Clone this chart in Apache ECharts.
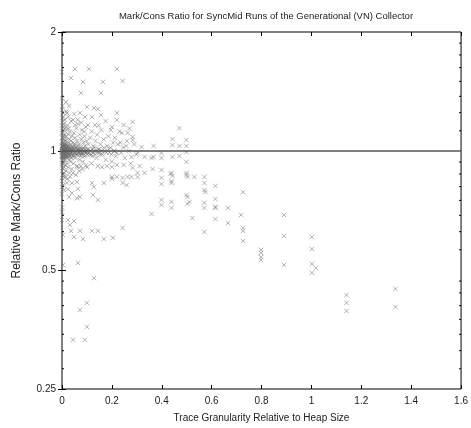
<!DOCTYPE html>
<html>
<head>
<meta charset="utf-8">
<script src="https://cdn.jsdelivr.net/npm/echarts@6/dist/echarts.min.js"></script>
<style>html,body{margin:0;padding:0;background:#fff;}#c{width:471px;height:428px;}</style>
</head>
<body>
<div id="c"></div>
<script>
const titleText = 'Mark/Cons Ratio for SyncMid Runs of the Generational (VN) Collector';
const xAxisName = 'Trace Granularity Relative to Heap Size';
const yAxisName = 'Relative Mark/Cons Ratio';
const xTicks = [0, 0.2, 0.4, 0.6, 0.8, 1, 1.2, 1.4, 1.6];
const yTicks = [0.25, 0.5, 1, 2];
const referenceRatio = 1;
const yMinorTicks = [0.28125, 0.3125, 0.34375, 0.375, 0.40625, 0.4375, 0.46875,
  0.5625, 0.625, 0.6875, 0.75, 0.8125, 0.875, 0.9375,
  1.125, 1.25, 1.375, 1.5, 1.625, 1.75, 1.875];

// runs close to zero granularity (dense cluster)
const clusterRuns = [
[0.001,1.00],[0.001,0.98],[0.001,1.03],[0.002,0.96],[0.002,1.06],[0.002,1.01],[0.002,0.99],[0.003,1.12],[0.003,0.93],[0.003,1.02],
[0.003,0.97],[0.004,1.08],[0.004,1.00],[0.004,0.90],[0.004,1.15],[0.005,1.04],[0.005,0.95],[0.005,0.99],[0.005,1.19],[0.006,1.01],
[0.006,0.87],[0.006,1.09],[0.006,0.97],[0.007,1.03],[0.007,0.94],[0.007,1.00],[0.007,1.13],[0.008,0.98],[0.008,1.05],[0.008,0.91],
[0.008,1.02],[0.009,1.07],[0.009,0.96],[0.009,1.00],[0.009,0.88],[0.010,1.01],[0.010,0.97],[0.010,1.10],[0.010,1.04],[0.0,1.00],
[0.0,0.97],[0.0,1.05],[0.0,0.93],[0.0,1.11],[0.0,1.21],[0.0,0.89],[0.0,0.84],[0.0,1.16],[0.001,0.95],[0.001,1.08],
[0.003,0.99],[0.004,1.03],[0.005,1.01],[0.006,0.99],[0.002,0.92],[0.003,1.25],[0.004,0.82],[0.001,1.36],[0.002,1.30],[0.0,0.78],
[0.001,0.72],[0.0,0.70],[0.006,1.22],[0.008,1.17],[0.007,0.86],
[0.011,0.99],[0.011,1.02],[0.012,0.95],[0.012,1.06],[0.013,1.00],[0.013,0.92],[0.014,1.03],[0.014,0.98],[0.015,1.09],[0.015,1.01],
[0.016,0.97],[0.016,0.89],[0.017,1.04],[0.017,1.00],[0.018,1.13],[0.018,0.96],[0.019,1.02],[0.019,0.99],[0.020,0.93],[0.020,1.07],
[0.021,1.00],[0.022,1.03],[0.022,0.97],[0.023,1.16],[0.024,0.99],[0.024,1.05],[0.025,0.91],[0.026,1.01],[0.026,1.10],[0.027,0.98],
[0.028,1.03],[0.028,0.95],[0.029,1.00],[0.030,1.07],[0.030,0.88],[0.031,1.02],[0.032,0.97],[0.032,1.12],[0.033,1.00],[0.034,1.04],
[0.035,0.94],[0.035,0.99],[0.036,1.19],[0.036,1.01],[0.037,1.06],[0.038,0.96],[0.038,1.00],[0.039,0.90],[0.040,1.03],[0.040,1.09],
[0.012,1.20],[0.015,0.86],[0.018,1.26],[0.021,0.85],[0.025,1.22],[0.027,1.14],[0.014,1.15],[0.019,0.83],[0.033,0.86],[0.029,1.30],
[0.016,1.33],[0.024,0.80],
[0.042,1.00],[0.043,0.97],[0.045,1.05],[0.046,1.01],[0.047,0.93],[0.048,1.11],[0.050,0.99],[0.051,1.03],[0.053,1.08],[0.054,0.96],
[0.055,1.00],[0.057,1.14],[0.058,1.02],[0.060,0.98],[0.061,1.06],[0.062,0.91],[0.064,1.01],[0.065,1.17],[0.067,0.99],[0.068,1.04],
[0.070,0.95],[0.071,1.10],[0.073,1.00],[0.074,1.02],[0.076,0.97],[0.078,1.07],[0.079,1.13],[0.081,0.99],[0.083,1.01],[0.084,0.94],
[0.086,1.05],[0.088,1.00],[0.090,1.09],[0.091,0.97],[0.093,1.03],[0.095,1.15],[0.097,0.99],[0.099,1.06],[0.044,0.88],[0.049,1.24],
[0.056,0.87],[0.063,1.20],[0.069,0.89],[0.077,1.18],[0.082,0.90],[0.089,1.12],[0.096,0.92],[0.052,1.04],[0.066,1.03],[0.075,0.99],
[0.085,1.02],[0.094,1.00],
[0.102,1.01],[0.106,1.04],[0.110,0.98],[0.113,1.08],[0.116,1.00],[0.119,1.12],[0.122,0.97],[0.126,1.03],[0.130,1.00],[0.134,1.06],
[0.138,0.96],[0.141,1.10],[0.146,1.01],[0.150,0.99],[0.154,1.04],[0.158,1.13],[0.162,0.98],[0.167,1.07],[0.172,1.00],[0.176,0.95],
[0.181,1.03],[0.186,1.09],[0.190,0.99],[0.195,1.02],[0.200,0.94],[0.205,1.05],[0.211,1.00],[0.216,0.97],[0.224,1.04],[0.230,1.12],
[0.237,0.99],[0.245,1.02],[0.252,0.96],[0.260,1.06],[0.268,1.00],[0.276,0.93],[0.290,1.04],[0.298,0.98],[0.118,0.93],[0.147,1.16],
[0.175,1.19],[0.196,1.13],[0.212,1.08],[0.235,1.05],[0.258,1.03],[0.270,1.14]
];

// runs right on the reference ratio (darkest band)
const bandRuns = [
[0.000,0.99],[0.000,1.02],[0.001,1.01],[0.001,0.97],[0.002,1.00],[0.002,1.03],[0.003,0.98],[0.003,1.01],[0.004,0.99],[0.004,1.02],
[0.005,0.97],[0.005,1.00],[0.006,1.03],[0.006,0.98],[0.007,1.01],[0.007,0.99],[0.008,1.00],[0.008,0.97],[0.009,1.02],[0.009,0.99],
[0.010,1.00],[0.011,0.98],[0.011,1.04],[0.012,1.01],[0.013,0.98],[0.013,1.03],[0.014,1.00],[0.015,0.97],[0.016,1.02],[0.017,0.98],
[0.018,1.01],[0.019,0.97],[0.020,1.00],[0.021,1.03],[0.022,0.99],[0.023,1.01],[0.024,0.97],[0.025,1.02],[0.026,0.99],[0.027,1.01],
[0.028,0.98],[0.030,1.00],[0.031,0.97],[0.032,1.01],[0.034,0.99],[0.035,1.02],[0.037,0.98],[0.038,1.01],[0.040,0.99],[0.041,1.01],
[0.043,1.02],[0.045,0.98],[0.046,1.00],[0.048,0.97],[0.050,1.01],[0.052,0.99],[0.054,1.02],[0.056,0.98],[0.058,1.00],[0.060,1.01],
[0.062,0.98],[0.064,1.00],[0.066,0.99],[0.068,1.01],[0.071,0.98],[0.073,1.01],[0.076,1.00],[0.078,0.98],[0.080,1.01],[0.083,0.99],
[0.086,1.00],[0.089,0.98],[0.092,1.01],[0.095,0.99],[0.098,1.00],[0.101,0.98],[0.105,1.01],[0.109,0.99],[0.113,1.00],[0.117,0.98],
[0.121,1.01],[0.125,0.99],[0.129,1.02],[0.133,0.98],[0.137,1.00],[0.142,0.99],[0.149,1.01],[0.155,0.98],[0.161,1.00],[0.168,1.02],
[0.178,0.99],[0.188,1.01],[0.198,0.98],[0.208,1.00],[0.22,0.99]
];

// scattered runs
const sparseRuns = [
[0,1.584],[0.052,1.612],[0.108,1.612],[0.22,1.612],[0.036,1.53],[0.084,1.495],[0.164,1.495],[0.243,1.503],[0.076,1.402],[0.156,1.402],
[0,1.27],[0.02,1.248],[0.1,1.292],[0.128,1.285],[0.144,1.277],[0.072,1.248],[0.092,1.219],[0.12,1.219],[0.156,1.233],[0.22,1.248],
[0.22,1.198],[0.283,1.184],[0.247,1.163],[0.044,1.198],[0.052,1.163],[0.104,1.163],[0.132,1.163],[0.471,1.143],[0.2,1.15],[0.24,1.111],
[0.263,1.111],[0.283,1.085],[0.283,1.066],[0.443,1.072],[0.443,1.035],[0.471,1.03],[0.499,1.066],[0.499,1.03],[0.367,1.03],[0.319,1.024],
[0.367,0.966],[0.399,0.988],[0.399,0.96],[0.443,0.966],[0.471,0.971],[0.499,0.994],[0.499,0.938],[0.331,0.966],[0.359,0.96],[0.303,0.988],
[0.279,0.966],
[0.06,0.916],[0.076,0.916],[0.1,0.911],[0.144,0.916],[0.16,0.911],[0.18,0.916],[0.2,0.911],[0.22,0.922],[0.247,0.922],[0.283,0.906],[0.311,0.916],
[0.399,0.895],[0.435,0.875],[0.443,0.865],[0.499,0.87],[0.531,0.86],[0.571,0.86],[0.303,0.86],[0.2,0.86],[0.22,0.86],[0.263,0.86],
[0.331,0.88],[0.363,0.9],[0.439,0.88],[0.499,0.88],[0.279,0.86],[0.303,0.88],
[0,0.855],[0.04,0.83],[0.06,0.835],[0.12,0.83],[0.168,0.83],[0.2,0.85],[0.243,0.855],[0.243,0.83],[0.259,0.82],
[0.399,0.855],[0.399,0.825],[0.439,0.839],[0.439,0.83],[0.503,0.86],[0.571,0.83],[0.571,0.797],[0.575,0.787],
[0,0.811],[0.008,0.797],[0.04,0.783],[0.064,0.802],[0.028,0.765],[0.06,0.76],[0.072,0.765],[0.128,0.811],[0.124,0.774],[0.144,0.752],
[0.359,0.693],[0.399,0.752],[0.399,0.73],[0.439,0.743],[0.439,0.718],[0.499,0.774],[0.503,0.765],[0.503,0.735],[0.511,0.743],[0.571,0.739],
[0.571,0.718],[0.523,0.677],[0.571,0.624],
[0,0.669],[0.024,0.669],[0.048,0.665],[0.032,0.65],[0.036,0.628],[0.072,0.628],[0.12,0.628],[0.144,0.628],[0.004,0.613],[0.048,0.606],
[0.084,0.599],[0.168,0.599],[0.204,0.603],[0.243,0.639],
[0.004,0.515],[0.064,0.521],[0.128,0.477],[0.1,0.413],[0.072,0.396],[0.1,0.359],[0.044,0.333],[0.092,0.333],
[0.615,0.816],[0.726,0.787],[0.615,0.756],[0.615,0.722],[0.615,0.718],[0.666,0.718],[0.718,0.689],[0.89,0.689],[0.615,0.673],[0.666,0.657],
[0.726,0.639],[0.726,0.628],[0.726,0.592],[0.89,0.61],[1.002,0.606],[1.002,0.565],[0.798,0.562],[0.798,0.552],[0.798,0.539],[0.798,0.53],
[0.89,0.515],[1.002,0.518],[1.018,0.506],[1.002,0.492],[1.141,0.432],[1.141,0.413],[1.141,0.394],[1.337,0.448],[1.337,0.403]
];

const sans = 'Liberation Sans, Arial, sans-serif';
const chart = echarts.init(document.getElementById('c'), null, {renderer: 'canvas'});

const yBase = {
  type: 'log', logBase: 2, min: yTicks[0], max: yTicks[yTicks.length - 1],
  axisLine: {show: false}, splitLine: {show: false},
  axisTick: {show: true, inside: true, length: 4, lineStyle: {color: '#000', width: 1}}
};
const xBase = {
  type: 'value', min: xTicks[0], max: xTicks[xTicks.length - 1], interval: 0.2,
  axisLine: {show: false}, splitLine: {show: false},
  axisTick: {show: true, inside: true, length: 4, lineStyle: {color: '#000', width: 1}}
};

chart.setOption({
  animation: false,
  backgroundColor: '#fff',
  title: {
    text: titleText, left: 261, top: 6, textAlign: 'center',
    textStyle: {fontFamily: sans, fontSize: 9.5, fontWeight: 'normal', color: '#222'}
  },
  grid: {left: 62, right: 8, top: 32, bottom: 39, show: true, borderColor: '#000', borderWidth: 1, backgroundColor: 'transparent'},
  xAxis: [
    Object.assign({}, xBase, {
      position: 'bottom',
      name: xAxisName, nameLocation: 'middle', nameGap: 24,
      nameTextStyle: {fontFamily: sans, fontSize: 10, color: '#222'},
      axisLabel: {margin: 7, fontFamily: sans, fontSize: 10, color: '#222',
        formatter: v => String(Math.round(v * 10) / 10)}
    }),
    Object.assign({}, xBase, {position: 'top', axisLabel: {show: false}})
  ],
  yAxis: [
    Object.assign({}, yBase, {
      position: 'left',
      name: yAxisName, nameLocation: 'middle', nameGap: 39,
      nameTextStyle: {fontFamily: sans, fontSize: 12, color: '#222'},
      axisLabel: {margin: 6, fontFamily: sans, fontSize: 10, color: '#222'}
    }),
    Object.assign({}, yBase, {position: 'right', axisLabel: {show: false}})
  ],
  series: [
    {
      type: 'scatter',
      xAxisIndex: 0, yAxisIndex: 0,
      data: clusterRuns.concat(bandRuns, sparseRuns),
      symbol: 'path://M0,0L10,10M10,0L0,10',
      symbolSize: 4.5,
      itemStyle: {color: 'rgba(0,0,0,0)', borderColor: '#6f6f6f', borderWidth: 0.65},
      silent: true,
      markLine: {
        silent: true, symbol: 'none', animation: false,
        label: {show: false},
        lineStyle: {color: '#555', width: 1.5, type: 'solid'},
        data: [{yAxis: referenceRatio}]
      }
    },
    {
      type: 'custom',
      xAxisIndex: 0, yAxisIndex: 0,
      silent: true,
      clip: false,
      data: yMinorTicks.map(v => [0, v]),
      renderItem: function (params, api) {
        const y = api.coord([0, api.value(1)])[1];
        const cs = params.coordSys;
        return {
          type: 'group',
          children: [
            {type: 'line', shape: {x1: cs.x, y1: y, x2: cs.x + 2, y2: y}, style: {stroke: '#000', lineWidth: 1}},
            {type: 'line', shape: {x1: cs.x + cs.width - 2, y1: y, x2: cs.x + cs.width, y2: y}, style: {stroke: '#000', lineWidth: 1}}
          ]
        };
      }
    }
  ]
});
</script>
</body>
</html>
